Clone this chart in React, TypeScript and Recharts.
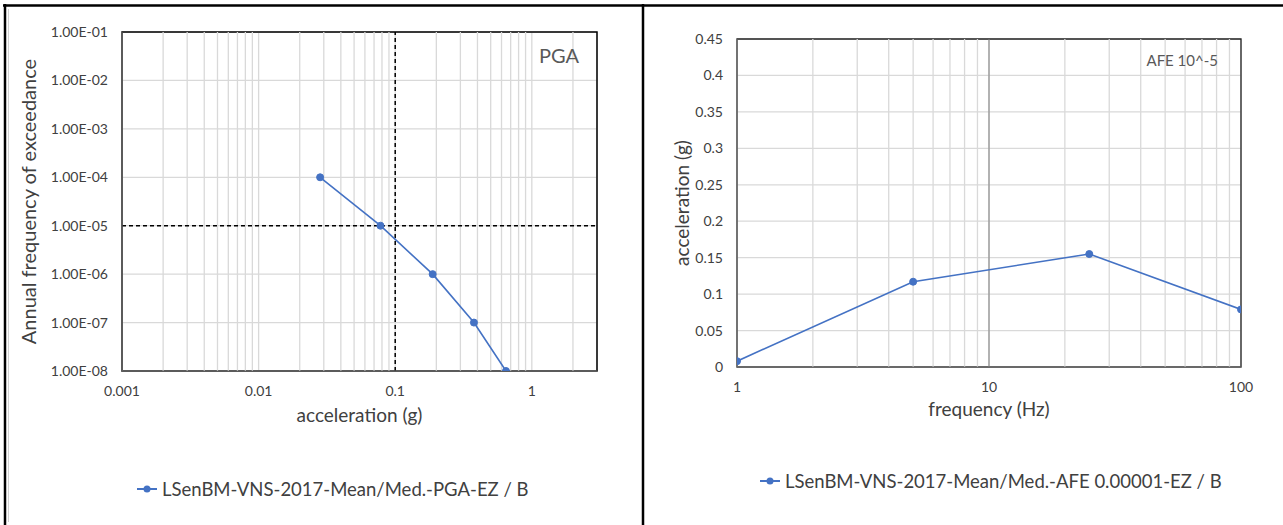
import React from "react";
import {
  LineChart,
  Line,
  XAxis,
  YAxis,
  CartesianGrid,
  ReferenceLine,
  ReferenceArea,
  Legend,
  Label,
} from "recharts";

// ---- Left chart: hazard curve (PGA) ----
const pgaAcceleration = [0.0282, 0.078, 0.188, 0.377, 0.647];
const pgaFrequency = [1e-4, 1e-5, 1e-6, 1e-7, 1e-8];
const pgaXTicks = [0.001, 0.01, 0.1, 1];
const pgaYTicks = [1e-8, 1e-7, 1e-6, 1e-5, 1e-4, 1e-3, 1e-2, 1e-1];
const pgaMinorX = [
  0.002, 0.003, 0.004, 0.005, 0.006, 0.007, 0.008, 0.009,
  0.02, 0.03, 0.04, 0.05, 0.06, 0.07, 0.08, 0.09,
  0.2, 0.3, 0.4, 0.5, 0.6, 0.7, 0.8, 0.9, 2,
];
const pgaXDomain = [0.001, 3];
const pgaYDomain = [1e-8, 1e-1];
const pgaRefX = 0.1;
const pgaRefY = 1e-5;
const pgaSeriesName = "LSenBM-VNS-2017-Mean/Med.-PGA-EZ / B";

// ---- Right chart: uniform hazard spectrum (AFE 1e-5) ----
const uhsFrequency = [1, 5, 25, 100];
const uhsAcceleration = [0.008, 0.117, 0.155, 0.079];
const uhsXTicks = [1, 10, 100];
const uhsYTicks = [0, 0.05, 0.1, 0.15, 0.2, 0.25, 0.3, 0.35, 0.4, 0.45];
const uhsMinorX = [2, 3, 4, 5, 6, 7, 8, 9, 20, 30, 40, 50, 60, 70, 80, 90];
const uhsXDomain = [1, 100];
const uhsYDomain = [0, 0.45];
const uhsRefX = 10;
const uhsSeriesName = "LSenBM-VNS-2017-Mean/Med.-AFE 0.00001-EZ / B";

const pgaData = pgaAcceleration.map((x, i) => ({ x, y: pgaFrequency[i] }));
const uhsData = uhsFrequency.map((x, i) => ({ x, y: uhsAcceleration[i] }));

const BLUE = "#4472C4";
const GRID = "#d9d9d9";
const TEXT = "#404040";
const FONT = "Lato, 'Open Sans', sans-serif";

const fmtExp = (v: number) => {
  const s = v.toExponential(2).toUpperCase();
  const [m, e] = s.split("E");
  const neg = e.startsWith("-");
  const digits = e.replace(/[+-]/, "").padStart(2, "0");
  return `${m}E${neg ? "-" : ""}${digits}`;
};

const makeLegend = (fontSize: number) => (props: any) => {
  const { payload } = props;
  return (
    <div style={{ display: "flex", flexDirection: "column" }}>
      {(payload || []).map((p: any, i: number) => (
        <div key={i} style={{ display: "flex", alignItems: "center", height: 24 }}>
          <svg width={20} height={10} style={{ marginRight: 5 }}>
            <line x1={0} y1={5} x2={20} y2={5} stroke={BLUE} strokeWidth={2} />
            <circle cx={10} cy={5} r={3.5} fill={BLUE} />
          </svg>
          <span style={{ fontSize, color: TEXT, fontFamily: FONT, whiteSpace: "nowrap", lineHeight: "24px" }}>
            {p.value}
          </span>
        </div>
      ))}
    </div>
  );
};

const tickStyle = { fontSize: 14, fill: TEXT, fontFamily: FONT };

export default function App() {
  return (
    <div
      style={{
        position: "absolute",
        left: 0,
        top: 0,
        width: 1283,
        height: 525,
        background: "#fff",
        fontFamily: FONT,
        overflow: "hidden",
      }}
    >
      {/* Left chart */}
      <div style={{ position: "absolute", left: 0, top: 0 }}>
        <LineChart
          width={643}
          height={525}
          data={pgaData}
          margin={{ top: 32, right: 46, left: 0, bottom: 124 }}
        >
          <CartesianGrid stroke={GRID} strokeWidth={1.3} />
          {pgaMinorX.map((v) => (
            <ReferenceLine key={v} x={v} stroke={GRID} strokeWidth={1.3} />
          ))}
          <XAxis
            dataKey="x"
            type="number"
            scale="log"
            domain={pgaXDomain}
            allowDataOverflow
            ticks={pgaXTicks}
            tickFormatter={(v: number) => String(v)}
            tick={tickStyle}
            tickLine={false}
            tickSize={0}
            tickMargin={15}
            height={30}
            stroke="#7f7f7f"
          >
            <Label
              value="acceleration (g)"
              position="bottom"
              offset={8}
              style={{ fontSize: 19, fill: TEXT, fontFamily: FONT }}
            />
          </XAxis>
          <YAxis
            dataKey="y"
            type="number"
            scale="log"
            domain={pgaYDomain}
            allowDataOverflow
            ticks={pgaYTicks}
            tickFormatter={fmtExp}
            tick={tickStyle}
            tickLine={false}
            tickSize={0}
            tickMargin={14}
            width={122}
            stroke="#7f7f7f"
          >
            <Label
              value="Annual  frequency of exceedance"
              angle={-90}
              position="insideLeft"
              offset={29}
              style={{ fontSize: 20, fill: TEXT, fontFamily: FONT, textAnchor: "middle" }}
            />
          </YAxis>
          <ReferenceArea
            x1={pgaXDomain[0]}
            x2={pgaXDomain[1]}
            y1={pgaYDomain[0]}
            y2={pgaYDomain[1]}
            fill="none"
            fillOpacity={0}
            stroke="#000"
            strokeWidth={1.5}
            ifOverflow="visible"
          />
          <ReferenceLine x={pgaRefX} stroke="#000" strokeWidth={1.5} strokeDasharray="4 3" />
          <ReferenceLine y={pgaRefY} stroke="#000" strokeWidth={1.5} strokeDasharray="4 3" />
          <Line
            name={pgaSeriesName}
            dataKey="y"
            stroke={BLUE}
            strokeWidth={1.6}
            dot={{ r: 3.5, fill: BLUE, stroke: BLUE, strokeWidth: 1 }}
            isAnimationActive={false}
          />
          <Legend
            layout="horizontal"
            verticalAlign="middle"
            align="center"
            content={makeLegend(18.5)}
            wrapperStyle={{ top: 477, left: 137, width: "auto" }}
          />
        </LineChart>
      </div>

      {/* Right chart */}
      <div style={{ position: "absolute", left: 643, top: 0 }}>
        <LineChart
          width={640}
          height={525}
          data={uhsData}
          margin={{ top: 39, right: 42, left: 0, bottom: 128 }}
        >
          <CartesianGrid stroke={GRID} strokeWidth={1.3} />
          {uhsMinorX.map((v) => (
            <ReferenceLine key={v} x={v} stroke={GRID} strokeWidth={1.3} />
          ))}
          <ReferenceLine x={uhsRefX} stroke="#7f7f7f" strokeWidth={1} />
          <XAxis
            dataKey="x"
            type="number"
            scale="log"
            domain={uhsXDomain}
            allowDataOverflow
            ticks={uhsXTicks}
            tickFormatter={(v: number) => String(v)}
            tick={tickStyle}
            tickLine={false}
            tickSize={0}
            tickMargin={15}
            height={30}
            stroke="#7f7f7f"
          >
            <Label
              value="frequency (Hz)"
              position="bottom"
              offset={6}
              style={{ fontSize: 19, fill: TEXT, fontFamily: FONT }}
            />
          </XAxis>
          <YAxis
            dataKey="y"
            type="number"
            domain={uhsYDomain}
            allowDataOverflow
            ticks={uhsYTicks}
            tickFormatter={(v: number) => String(v)}
            tick={tickStyle}
            tickLine={false}
            tickSize={0}
            tickMargin={14}
            width={94}
            stroke="#7f7f7f"
          >
            <Label
              value="acceleration (g)"
              angle={-90}
              position="insideLeft"
              offset={39}
              style={{ fontSize: 19, fill: TEXT, fontFamily: FONT, textAnchor: "middle" }}
            />
          </YAxis>
          <ReferenceArea
            x1={uhsXDomain[0]}
            x2={uhsXDomain[1]}
            y1={uhsYDomain[0]}
            y2={uhsYDomain[1]}
            fill="none"
            fillOpacity={0}
            stroke="#262626"
            strokeWidth={1.3}
            ifOverflow="visible"
          />
          <Line
            name={uhsSeriesName}
            dataKey="y"
            stroke={BLUE}
            strokeWidth={1.6}
            dot={{ r: 3.5, fill: BLUE, stroke: BLUE, strokeWidth: 1 }}
            isAnimationActive={false}
          />
          <Legend
            layout="horizontal"
            verticalAlign="middle"
            align="center"
            content={makeLegend(18.5)}
            wrapperStyle={{ top: 469, left: 117, width: "auto" }}
          />
        </LineChart>
      </div>

      {/* Frame and annotations */}
      <svg
        width={1283}
        height={525}
        style={{ position: "absolute", left: 0, top: 0, pointerEvents: "none" }}
      >
        <line x1={3} y1={5.5} x2={1283} y2={5.5} stroke="#000" strokeWidth={2.5} />
        <line x1={5} y1={4} x2={5} y2={525} stroke="#000" strokeWidth={2.5} />
        <line x1={643} y1={4} x2={643} y2={525} stroke="#000" strokeWidth={2.5} />
        <line x1={8.5} y1={9} x2={8.5} y2={522} stroke="#d0d0d0" strokeWidth={1} />
        <text x={579} y={63} textAnchor="end" fontSize={20} fill="#595959" fontFamily={FONT}>
          PGA
        </text>
        <text x={1218} y={66} textAnchor="end" fontSize={15} fill="#595959" fontFamily={FONT}>
          AFE 10^-5
        </text>
      </svg>
    </div>
  );
}
